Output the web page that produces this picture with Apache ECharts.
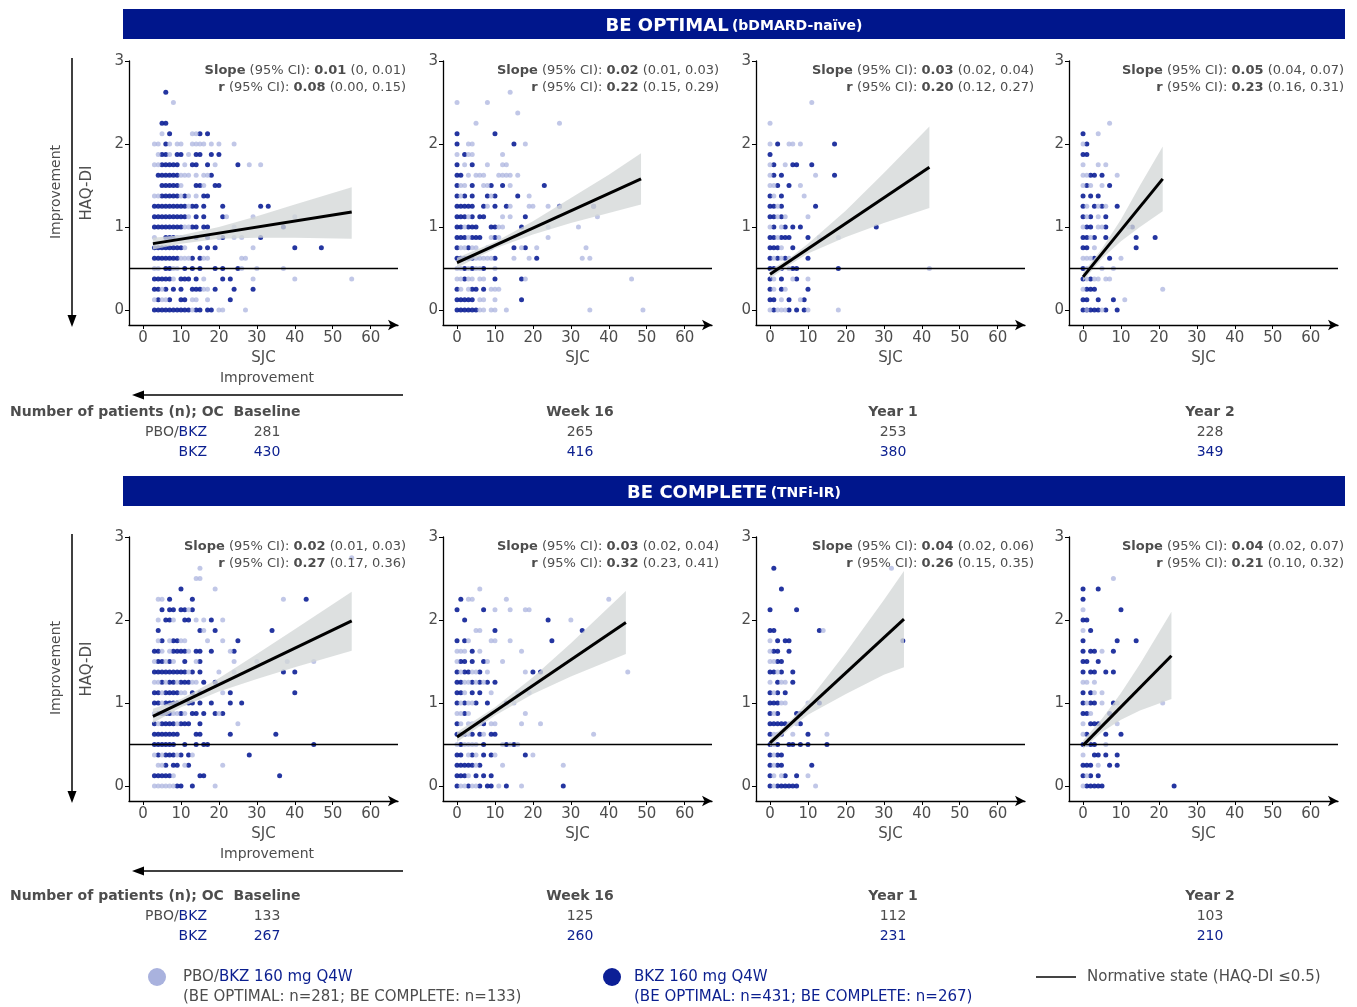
<!DOCTYPE html>
<html>
<head>
<meta charset="utf-8">
<script src="https://cdn.jsdelivr.net/npm/echarts@6/dist/echarts.min.js"></script>
<style>
html, body { margin: 0; padding: 0; background: #fff; }
#main { width: 1357px; height: 1007px; }
</style>
</head>
<body>
<div id="main"></div>
<script>
// ---- data: each row is [HAQ-DI change, [SJC change values]] ----
var optBasePbo = [[2.5,[8]],[2.125,[5,13,14]],[2.0,[3,4,7,9,10,13,14,15,16,18,20,24]],[1.875,[4,7,12]],
	[1.75,[3,4,11,19,28,31]],[1.625,[10,11,12,14,16,17]],[1.5,[10,16]],[1.375,[3,4,10,12,14]],[1.25,[12]],
	[1.125,[12,22,29,40]],[1.0,[11,12,24]],[0.875,[3,9,10,11,12,20,24,26]],[0.75,[11,29]],
	[0.625,[10,11,12,16,17,26,27]],[0.5,[3,4,8,9,26,30,37]],[0.375,[8,16,29,40,55]],[0.25,[5,16,17]],
	[0.125,[3,5,6,13,14,17]],[0,[13,20,21,27]]];
var optBaseBkz = [[2.625,[6]],[2.25,[5,6]],[2.125,[7,15,17]],[2.0,[6]],[1.875,[5,6,9,10,14,15,18,20]],
	[1.75,[5,6,7,8,9,13,14,17,25]],[1.625,[4,5,6,7,8,9,18]],[1.5,[5,6,7,8,9,14,15,19,20]],
	[1.375,[5,6,7,8,9,11,16,17]],[1.25,[3,4,5,6,7,8,9,10,11,13,14,16,21,31,33]],
	[1.125,[3,4,5,6,7,8,9,10,11,14,16,21]],[1.0,[3,4,5,6,7,8,9,10,13,14,16,17,37]],[0.875,[6,7,8,14,17,21,31]],
	[0.75,[3,4,5,6,7,8,9,10,15,17,19,40,47]],[0.625,[3,4,5,6,7,8,9,13,15]],[0.5,[6,7,11,13,15,19,21,25]],
	[0.375,[3,4,5,6,7,10,11,12,14,21,23]],[0.25,[3,4,6,8,10,13,14,15,19,24,29]],[0.125,[4,7,10,11,23]],
	[0,[3,4,5,6,7,8,9,10,11,12,14,15,17,18]]];

var optW16Pbo = [[2.625,[14]],[2.5,[0,8]],[2.375,[16]],[2.25,[5,27]],[2.0,[3,4,18]],[1.875,[0,3,4,12]],
	[1.75,[2,8,12,13]],[1.625,[3,5,6,7,11,12,13,14,16]],[1.5,[1,2,7,8,14]],[1.375,[1,9,19]],
	[1.25,[8,14,19,20,24,27,36]],[1.125,[3,12,14,37]],[1.0,[2,11,12,24,32]],[0.875,[3,9,11,24]],
	[0.75,[1,2,4,5,8,9,17,21,34]],[0.625,[5,6,7,8,9,15,19,33,35]],[0.5,[0,1,3,5,6,10]],
	[0.375,[0,1,3,4,6,7,18,46]],[0.25,[1,3,9,10,11]],[0.125,[6,7,10]],[0,[6,7,9,10,13,35,49]]];
var optW16Bkz = [[2.125,[0,10]],[2.0,[0,15]],[1.875,[2]],[1.75,[0,4]],[1.625,[0,1]],[1.5,[0,4,9,12,23]],
	[1.375,[0,2,4,8,10,16]],[1.25,[0,1,2,3,4,7,10,13,27,36]],[1.125,[0,1,2,4,6,7,18]],
	[1.0,[0,1,3,4,5,9,10,17]],[0.875,[0,1,2,4,5,6,10]],[0.75,[0,3,15,18]],[0.625,[0,1,2,3,4,10,21]],
	[0.5,[2,4,7]],[0.375,[2,10,17]],[0.25,[0,4,5,7]],[0.125,[0,1,2,3,4,17]],[0,[0,1,2,3,4,5]]];

var optY1Pbo = [[2.5,[11]],[2.25,[0]],[2.0,[0,5,6,8]],[1.75,[0,4]],[1.625,[0,12]],[1.5,[0,1,8]],
	[1.375,[1,9]],[1.25,[2]],[1.125,[2,4,10]],[1.0,[0,3]],[0.875,[2,13,18]],[0.75,[3]],[0.625,[1,3,5]],
	[0.5,[2,5,42]],[0.375,[1,6,10]],[0.25,[1,4]],[0.125,[3,8]],[0,[0,2,3,4,10,18]]];
var optY1Bkz = [[2.0,[2,17]],[1.875,[0]],[1.75,[1,6,7,11]],[1.625,[1,3,17]],[1.5,[2,5]],[1.375,[0,3]],
	[1.25,[0,1,3,12]],[1.125,[0,1,3]],[1.0,[1,4,6,8,28]],[0.875,[0,1,3,4,5,10]],[0.75,[0,1,2,6]],
	[0.625,[0,2,4,10]],[0.5,[0,1,3,6,7,18]],[0.375,[0,3,7]],[0.25,[0,3,10]],[0.125,[0,1,5,9]],[0,[1,5,7,9]]];

var optY2Pbo = [[2.25,[7]],[2.125,[4]],[2.0,[0]],[1.75,[0,4,6]],[1.625,[0,1,9]],[1.5,[0,2,5]],
	[1.25,[1,4,6]],[1.125,[1,4]],[1.0,[0,4,5,12]],[0.875,[2]],[0.75,[3]],[0.625,[0,1,2,10]],
	[0.5,[1,5,8]],[0.375,[1,3,4,6,7]],[0.25,[0,21]],[0.125,[11]],[0,[1,5]]];
var optY2Bkz = [[2.125,[0]],[2.0,[1]],[1.875,[0,1]],[1.625,[2,3,5]],[1.5,[1,7]],[1.375,[0,2,4]],
	[1.25,[0,3,5,9]],[1.125,[0,2,6]],[1.0,[1,2,6,13]],[0.875,[0,1,3,6,14,19]],[0.75,[0,1,14]],
	[0.625,[3,7]],[0.5,[0]],[0.375,[0,2]],[0.25,[1,2,3]],[0.125,[0,1,4,8]],[0,[0,1,2,3,4,6,9]]];

var cmpBasePbo = [[2.75,[55]],[2.625,[15]],[2.5,[14,15]],[2.375,[19]],[2.25,[4,5,37]],[2.125,[12]],
	[2.0,[4,8,14,16,21]],[1.875,[16]],[1.75,[4,7,10,11,17,21]],[1.625,[5,7,12,23]],
	[1.5,[3,6,8,14,24,30,38,45]],[1.375,[12,20,24]],[1.25,[3,4,6,9,13,14,21]],[1.125,[5,10,11,21]],
	[1.0,[5,10,11]],[0.875,[3,8,9,11,20]],[0.75,[4,9,25]],[0.375,[3,5,9,13]],[0.25,[4,5,11,21]],
	[0.125,[8]],[0,[3,4,5,6,7,8,19]]];
var cmpBaseBkz = [[2.375,[10]],[2.25,[7,13,43]],[2.125,[5,7,8,10,11,13]],[2.0,[6,7,11,12,18]],
	[1.875,[4,15,19,34]],[1.75,[5,8,9,25]],[1.625,[3,4,8,9,10,11,14,15,18,24]],[1.5,[4,5,7,11,15]],
	[1.375,[3,4,5,6,7,8,9,10,11,13,15,37,40]],[1.25,[5,7,8,10,11,12,16,19]],
	[1.125,[3,4,6,7,8,9,13,15,23,40]],[1.0,[3,4,6,7,8,9,12,13,15,18,23,26]],
	[0.875,[4,5,6,7,10,13,14,16,19,21]],[0.75,[3,5,6,7,8,10,11,12,15]],
	[0.625,[3,4,5,6,7,8,9,14,15,23,35]],[0.5,[3,4,5,6,7,8,11,14,16,17,45]],[0.375,[4,6,7,8,10,12,28]],
	[0.25,[6,8,9,12]],[0.125,[3,4,5,6,7,15,16,36]],[0,[9,10,13]]];

var cmpW16Pbo = [[2.375,[6]],[2.25,[3,4,13,40]],[2.125,[10,14,18,19]],[2.0,[30]],[1.875,[5,6]],
	[1.75,[3,9,10,14]],[1.625,[0,1,2,6,17]],[1.5,[0,8,12]],[1.375,[1,4,5,8,18,45]],[1.25,[2,3,5,7]],
	[1.125,[2,9,16,19]],[1.0,[1,3,4,15]],[0.875,[0,1,3,18]],[0.75,[1,3,4,5,6,9,10,17,22]],
	[0.625,[3,7,36]],[0.5,[0,2,3,4,5,12,14,16]],[0.375,[3,5,10,20]],[0.25,[5,12,28]],[0.125,[3]],
	[0,[1,2,4,5,11,17]]];
var cmpW16Bkz = [[2.25,[1]],[2.125,[0,7]],[2.0,[2,24]],[1.875,[10,33]],[1.75,[0,2,25]],[1.625,[4]],
	[1.5,[1,2,4,7]],[1.375,[0,2,3,6,20,22]],[1.25,[0,1,4,6,8,10]],[1.125,[0,1,4,6]],[1.0,[0,2,5,8,13]],
	[0.875,[2]],[0.75,[0,7]],[0.625,[0,1,2,4,6,9,10]],[0.5,[1,7,13,15]],[0.375,[0,1,4,7,9,18]],
	[0.25,[0,1,2,3,4,6]],[0.125,[0,1,2,5,7,9]],[0,[0,3,6,8,9,13,28]]];

var cmpY1Pbo = [[2.625,[32]],[1.875,[14]],[1.75,[0]],[1.625,[0]],[1.5,[0,1]],[1.375,[2]],[1.25,[0,3,4]],
	[1.125,[1]],[1.0,[3,4,10]],[0.875,[1]],[0.75,[5,7]],[0.625,[1,2,6,15]],[0.5,[1]],[0.375,[1]],
	[0.25,[1]],[0.125,[1,3,10]],[0,[1,12]]];
var cmpY1Bkz = [[2.625,[1]],[2.375,[3]],[2.125,[0,7]],[1.875,[0,1,13]],[1.75,[2,4,5,35]],[1.625,[1,2,5]],
	[1.5,[2,3]],[1.375,[0,1,3,6]],[1.25,[2,6]],[1.125,[0,2,4]],[1.0,[0,1,2,13]],[0.875,[0,2,7,8]],
	[0.75,[0,1,2,3,4,8]],[0.625,[0,3,10]],[0.5,[0,2,5,6,8,10,15]],[0.375,[0,2,3]],[0.25,[0,2,3,11]],
	[0.125,[0,4,7]],[0,[0,2,3,4,5,6,7]]];

var cmpY2Pbo = [[2.5,[8]],[2.125,[0]],[1.875,[0]],[1.625,[5]],[1.25,[0,1,3]],[1.125,[3,5]],
	[1.0,[1,5,9,21]],[0.875,[2]],[0.75,[0,9]],[0.625,[0]],[0.5,[1,6]],[0.375,[0]],[0.25,[4]],
	[0.125,[1]],[0,[0]]];
var cmpY2Bkz = [[2.375,[0,4]],[2.25,[0]],[2.125,[10]],[2.0,[0,1]],[1.875,[2]],[1.75,[0,9,14]],
	[1.625,[0,2,3,8]],[1.5,[0,1,4]],[1.375,[0,2,3,6,8]],[1.125,[0,2]],[1.0,[0,2,3,8]],[0.875,[0,1,7]],
	[0.75,[2,3,4]],[0.625,[1,6,10]],[0.5,[0,2,3]],[0.375,[3,4,6,9]],[0.25,[0,1,2,7,9]],[0.125,[0,2,4]],
	[0,[1,2,3,4,5,24]]];

// regression lines (x ends, y ends) and 95% CI band edges
var regX = [[2.6,55],[0,48.5],[0,42],[0,21],[2.6,55],[0,44.5],[0,35.3],[0,23.3]];
var regY = [[0.8,1.18],[0.57,1.58],[0.43,1.72],[0.40,1.58],[0.84,1.99],[0.59,1.97],[0.52,2.01],[0.49,1.57]];
var bandX = [[2.6,10,20,30,40,55],[0,10,20,30,40,48.5],[0,5,10,20,30,42],[0,5,10,15,21],
	[2.6,10,20,30,40,55],[0,10,20,30,44.5],[0,5,10,20,30,35.3],[0,5,10,15,23.3]];
var bandLo = [[0.73,0.80,0.86,0.87,0.87,0.86],[0.51,0.74,0.91,1.05,1.17,1.27],[0.38,0.54,0.68,0.88,1.05,1.23],
	[0.35,0.62,0.83,1.0,1.19],[0.76,0.95,1.14,1.29,1.43,1.63],[0.53,0.85,1.11,1.32,1.59],
	[0.47,0.68,0.86,1.11,1.34,1.43],[0.45,0.65,0.8,0.91,1.05]];
var bandHi = [[0.87,0.90,1.0,1.13,1.27,1.48],[0.63,0.82,1.07,1.35,1.63,1.89],[0.48,0.62,0.80,1.2,1.65,2.21],
	[0.45,0.74,1.09,1.5,1.97],[0.93,1.05,1.3,1.59,1.89,2.34],[0.65,0.95,1.31,1.72,2.35],
	[0.57,0.77,1.02,1.61,2.24,2.59],[0.55,0.81,1.12,1.47,2.1]];

var slopeVal = ['0.01','0.02','0.03','0.05','0.02','0.03','0.04','0.04'];
var slopeCI = ['(0, 0.01)','(0.01, 0.03)','(0.02, 0.04)','(0.04, 0.07)','(0.01, 0.03)','(0.02, 0.04)','(0.02, 0.06)','(0.02, 0.07)'];
var rVal = ['0.08','0.22','0.20','0.23','0.27','0.32','0.26','0.21'];
var rCI = ['(0.00, 0.15)','(0.15, 0.29)','(0.12, 0.27)','(0.16, 0.31)','(0.17, 0.36)','(0.23, 0.41)','(0.15, 0.35)','(0.10, 0.32)'];

var visits = ['Baseline','Week 16','Year 1','Year 2'];
var nPbo = [[281,265,253,228],[133,125,112,103]];
var nBkz = [[430,416,380,349],[267,260,231,210]];
var xTicks = [0,10,20,30,40,50,60];
var yTicks = [0,1,2,3];

var pboSets = [optBasePbo,optW16Pbo,optY1Pbo,optY2Pbo,cmpBasePbo,cmpW16Pbo,cmpY1Pbo,cmpY2Pbo];
var bkzSets = [optBaseBkz,optW16Bkz,optY1Bkz,optY2Bkz,cmpBaseBkz,cmpW16Bkz,cmpY1Bkz,cmpY2Bkz];

// ---- styles ----
var FONT = 'DejaVu Sans';
var GREY = '#4d4d4d';
var BLUE = '#0b1f8f';
var NAVY = '#00168c';
var DARK = '#0c1f96';
var LIGHT = '#a9b2de';

var colLeft = [129, 443, 756, 1069];
var colText = [406, 719, 1034, 1344];
var colCenter = [267, 580, 893, 1210];
var rowTop = [61, 537];

function toPoints(rows) {
	var out = [];
	rows.forEach(function(r) {
		r[1].forEach(function(x) { out.push([x, r[0]]); });
	});
	return out;
}

function bandItem(p) {
	return function(params, api) {
		if (params.dataIndex !== 0) return null;
		var pts = [];
		for (var i = 0; i < bandX[p].length; i++) pts.push(api.coord([bandX[p][i], bandHi[p][i]]));
		for (var j = bandX[p].length - 1; j >= 0; j--) pts.push(api.coord([bandX[p][j], bandLo[p][j]]));
		return {type: 'polygon', shape: {points: pts}, style: {fill: 'rgba(212,215,215,0.78)'}};
	};
}

var grids = [], xAxes = [], yAxes = [], series = [], graphics = [];

for (var p = 0; p < 8; p++) {
	var r = Math.floor(p / 4), c = p % 4;
	grids.push({left: colLeft[c], top: rowTop[r], width: 269, height: 264});
	xAxes.push({
		gridIndex: p, type: 'value', min: -3.7, max: 67.2,
		axisLine: {onZero: false, symbol: ['none', 'arrow'], symbolSize: [8, 10], lineStyle: {color: '#000', width: 1.3}},
		axisTick: {customValues: xTicks, length: 4, lineStyle: {color: '#000'}},
		axisLabel: {customValues: xTicks, color: GREY, fontSize: 15, fontFamily: FONT, margin: 6},
		splitLine: {show: false},
		name: 'SJC', nameLocation: 'middle', nameGap: 26,
		nameTextStyle: {color: GREY, fontSize: 15, fontFamily: FONT}
	});
	yAxes.push({
		gridIndex: p, type: 'value', min: -0.18, max: 3,
		axisLine: {show: true, onZero: false, lineStyle: {color: '#000', width: 1.3}},
		axisTick: {show: true, customValues: yTicks, length: 4, lineStyle: {color: '#000'}},
		axisLabel: {customValues: yTicks, color: GREY, fontSize: 15, fontFamily: FONT, margin: 5},
		splitLine: {show: false},
		name: c === 0 ? 'HAQ-DI' : '', nameLocation: 'middle', nameGap: 34,
		nameTextStyle: {color: GREY, fontSize: 15, fontFamily: FONT}
	});
	series.push({
		type: 'scatter', xAxisIndex: p, yAxisIndex: p, silent: true, z: 2,
		symbolSize: 5, itemStyle: {color: DARK, opacity: 0.9},
		data: toPoints(bkzSets[p])
	});
	series.push({
		type: 'scatter', xAxisIndex: p, yAxisIndex: p, silent: true, z: 3,
		symbolSize: 5, itemStyle: {color: LIGHT, opacity: 0.72},
		data: toPoints(pboSets[p])
	});
	series.push({
		type: 'custom', xAxisIndex: p, yAxisIndex: p, silent: true, z: 4,
		renderItem: bandItem(p),
		data: bandX[p].map(function(x, i) { return [x, bandLo[p][i]]; })
	});
	series.push({
		type: 'line', xAxisIndex: p, yAxisIndex: p, silent: true, z: 5,
		showSymbol: false, lineStyle: {color: '#000', width: 3},
		data: [[regX[p][0], regY[p][0]], [regX[p][1], regY[p][1]]],
		markLine: {
			silent: true, symbol: ['none', 'none'], label: {show: false},
			lineStyle: {color: '#000', width: 1.3, type: 'solid'},
			data: [{yAxis: 0.5}]
		}
	});

	// slope / r annotation
	var rich = {
		b: {fontWeight: 'bold', fontSize: 13, fontFamily: FONT, fill: GREY},
		n: {fontSize: 13, fontFamily: FONT, fill: GREY}
	};
	var ty = rowTop[r] + 9;
	graphics.push({type: 'text', x: colText[c], y: ty + 1, z: 10, style: {
		text: '{b|Slope}{n| (95% CI): }{b|' + slopeVal[p] + '}{n| ' + slopeCI[p] + '}',
		rich: rich, align: 'right', verticalAlign: 'middle'}});
	graphics.push({type: 'text', x: colText[c], y: ty + 18, z: 10, style: {
		text: '{b|r}{n| (95% CI): }{b|' + rVal[p] + '}{n| ' + rCI[p] + '}',
		rich: rich, align: 'right', verticalAlign: 'middle'}});
}

// headers
var headerY = [9, 476];
var headerMain = ['BE OPTIMAL', 'BE COMPLETE'];
var headerSub = ['(bDMARD-naïve)', '(TNFi-IR)'];
for (var h = 0; h < 2; h++) {
	graphics.push({type: 'rect', shape: {x: 123, y: headerY[h], width: 1222, height: 30}, style: {fill: NAVY}});
	graphics.push({type: 'text', x: 734, y: headerY[h] + 17, style: {
		text: '{a|' + headerMain[h] + '} {s|' + headerSub[h] + '}',
		rich: {
			a: {fontSize: 18, fontWeight: 'bold', fontFamily: FONT, fill: '#fff'},
			s: {fontSize: 14, fontWeight: 'bold', fontFamily: FONT, fill: '#fff'}
		},
		align: 'center', verticalAlign: 'middle'}});
}

// improvement arrows and labels
for (var k = 0; k < 2; k++) {
	var gTop = rowTop[k];
	graphics.push({type: 'line', shape: {x1: 72, y1: gTop - 3, x2: 72, y2: gTop + 257}, style: {stroke: '#000', lineWidth: 1.5}});
	graphics.push({type: 'polygon', shape: {points: [[67.5, gTop + 254], [76.5, gTop + 254], [72, gTop + 266]]}, style: {fill: '#000'}});
	graphics.push({type: 'text', x: 56, y: gTop + 131, rotation: Math.PI / 2, style: {
		text: 'Improvement', fontSize: 14, fontFamily: FONT, fill: GREY, align: 'center', verticalAlign: 'middle'}});
	graphics.push({type: 'text', x: 267, y: gTop + 317, style: {
		text: 'Improvement', fontSize: 14, fontFamily: FONT, fill: GREY, align: 'center', verticalAlign: 'middle'}});
	graphics.push({type: 'line', shape: {x1: 403, y1: gTop + 334, x2: 142, y2: gTop + 334}, style: {stroke: '#000', lineWidth: 1.5}});
	graphics.push({type: 'polygon', shape: {points: [[144, gTop + 329.5], [144, gTop + 338.5], [132, gTop + 334]]}, style: {fill: '#000'}});

	// patient numbers table
	var tY = [412, 896][k];
	graphics.push({type: 'text', x: 10, y: tY, style: {
		text: 'Number of patients (n); OC', fontSize: 14, fontWeight: 'bold', fontFamily: FONT, fill: GREY, verticalAlign: 'middle'}});
	graphics.push({type: 'text', x: 207, y: tY + 20, style: {
		text: '{g|PBO/}{b|BKZ}',
		rich: {g: {fontSize: 14, fontFamily: FONT, fill: GREY}, b: {fontSize: 14, fontFamily: FONT, fill: BLUE}},
		align: 'right', verticalAlign: 'middle'}});
	graphics.push({type: 'text', x: 207, y: tY + 40, style: {
		text: 'BKZ', fontSize: 14, fontFamily: FONT, fill: BLUE, align: 'right', verticalAlign: 'middle'}});
	for (var v = 0; v < 4; v++) {
		graphics.push({type: 'text', x: colCenter[v], y: tY, style: {
			text: visits[v], fontSize: 14, fontWeight: 'bold', fontFamily: FONT, fill: GREY, align: 'center', verticalAlign: 'middle'}});
		graphics.push({type: 'text', x: colCenter[v], y: tY + 20, style: {
			text: String(nPbo[k][v]), fontSize: 14, fontFamily: FONT, fill: GREY, align: 'center', verticalAlign: 'middle'}});
		graphics.push({type: 'text', x: colCenter[v], y: tY + 40, style: {
			text: String(nBkz[k][v]), fontSize: 14, fontFamily: FONT, fill: BLUE, align: 'center', verticalAlign: 'middle'}});
	}
}

// legend
graphics.push({type: 'circle', shape: {cx: 157, cy: 977, r: 9}, style: {fill: LIGHT}});
graphics.push({type: 'text', x: 183, y: 977, style: {
	text: '{g|PBO/}{b|BKZ 160 mg Q4W}',
	rich: {g: {fontSize: 15, fontFamily: FONT, fill: GREY}, b: {fontSize: 15, fontFamily: FONT, fill: BLUE}},
	verticalAlign: 'middle'}});
graphics.push({type: 'text', x: 183, y: 997, style: {
	text: '(BE OPTIMAL: n=281; BE COMPLETE: n=133)', fontSize: 15, fontFamily: FONT, fill: GREY, verticalAlign: 'middle'}});
graphics.push({type: 'circle', shape: {cx: 612, cy: 977, r: 9}, style: {fill: DARK}});
graphics.push({type: 'text', x: 634, y: 977, style: {
	text: 'BKZ 160 mg Q4W', fontSize: 15, fontFamily: FONT, fill: BLUE, verticalAlign: 'middle'}});
graphics.push({type: 'text', x: 634, y: 997, style: {
	text: '(BE OPTIMAL: n=431; BE COMPLETE: n=267)', fontSize: 15, fontFamily: FONT, fill: BLUE, verticalAlign: 'middle'}});
graphics.push({type: 'line', shape: {x1: 1036, y1: 977, x2: 1076, y2: 977}, style: {stroke: '#444', lineWidth: 2}});
graphics.push({type: 'text', x: 1087, y: 977, style: {
	text: 'Normative state (HAQ-DI \u22640.5)', fontSize: 15, fontFamily: FONT, fill: GREY, verticalAlign: 'middle'}});

var myChart = echarts.init(document.getElementById('main'), null, {renderer: 'canvas'});
var option = {
	animation: false,
	backgroundColor: '#fff',
	grid: grids,
	xAxis: xAxes,
	yAxis: yAxes,
	series: series,
	graphic: {elements: graphics}
};
myChart.setOption(option);
</script>
</body>
</html>
